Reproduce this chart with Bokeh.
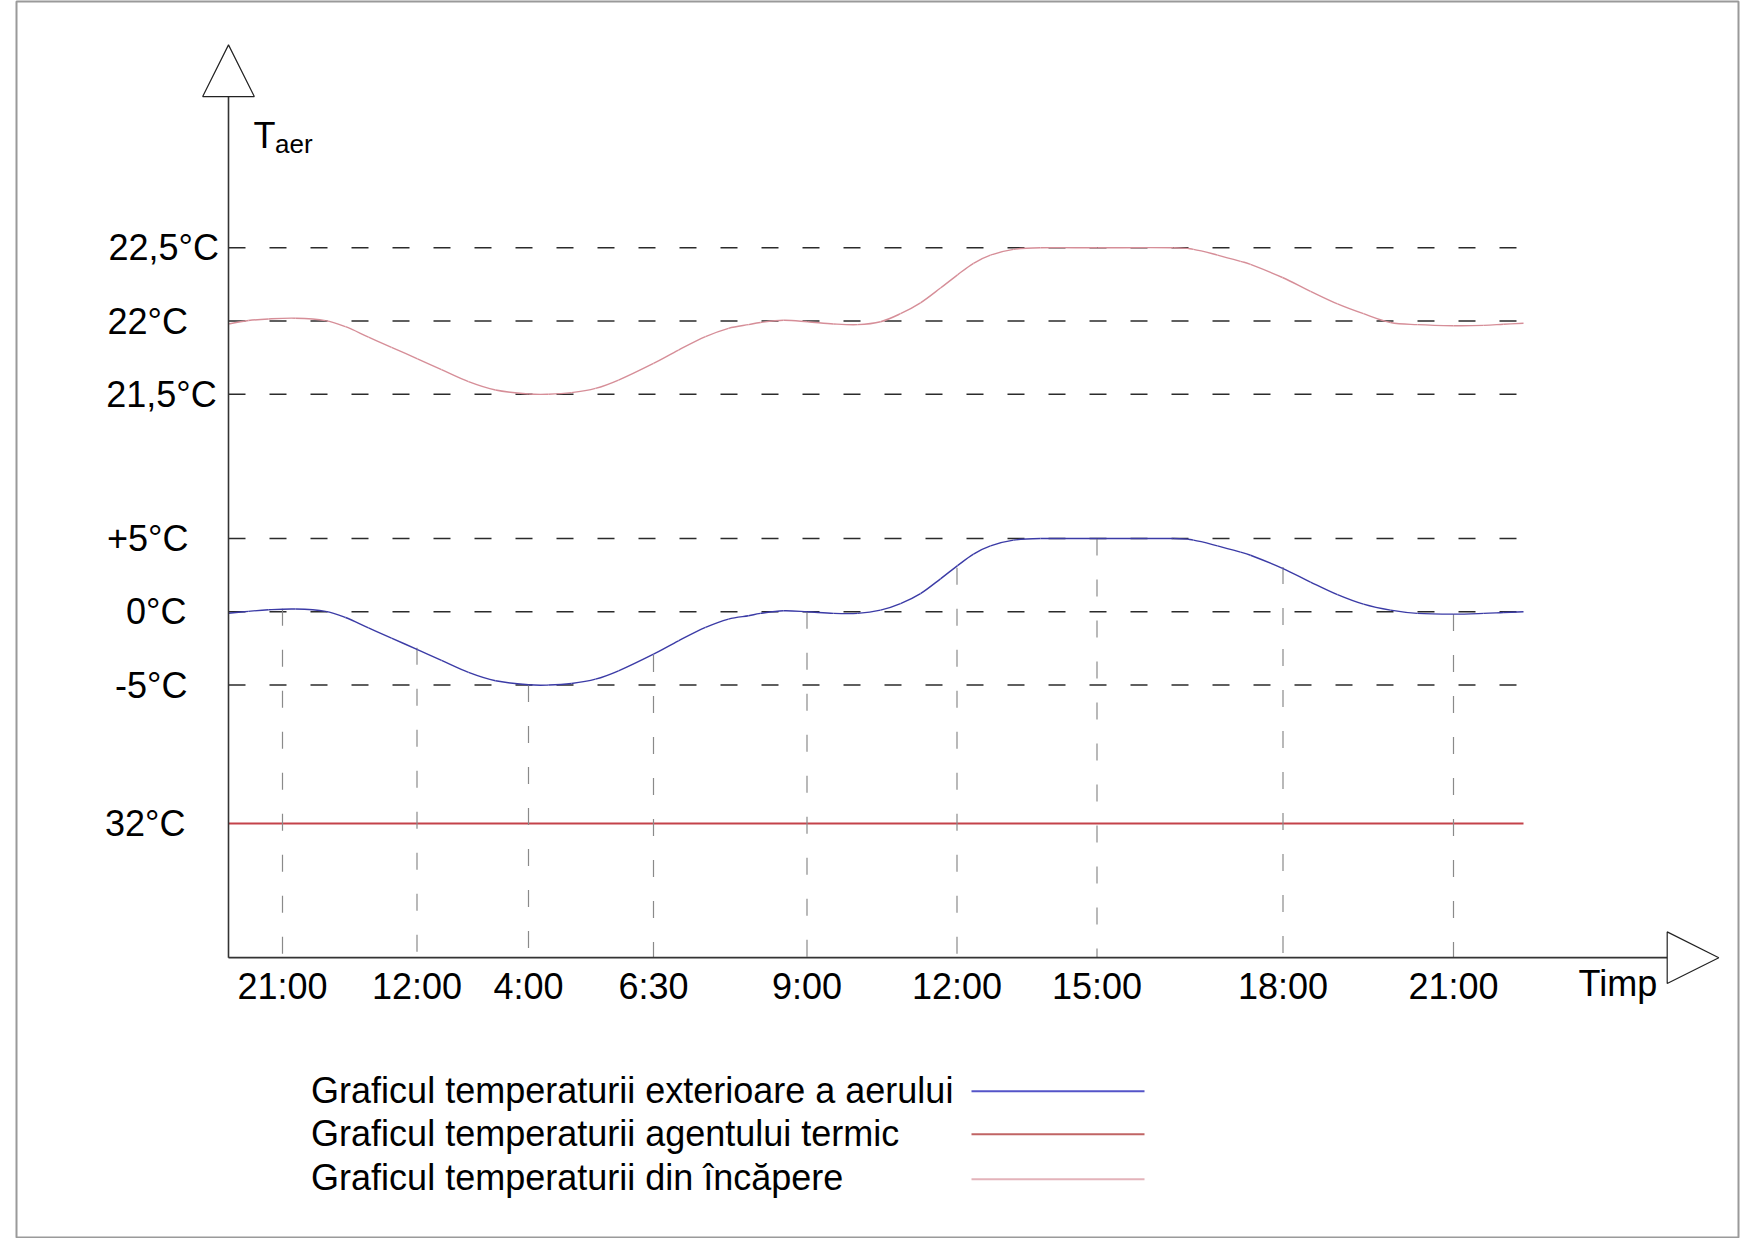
from bokeh.plotting import figure
from bokeh.models import Range1d
from bokeh.core.properties import value
from bokeh.embed import file_html
from bokeh.resources import INLINE

# ---------------- data ----------------
time_labels = ["21:00", "12:00", "4:00", "6:30", "9:00", "12:00", "15:00", "18:00", "21:00"]
time_pos = [0.54, 1.885, 3.00, 4.25, 5.785, 7.285, 8.685, 10.545, 12.25]
# outside temperature where each time marker meets the curve
time_marker_temp = [0.2, -2.45, -5.0, -2.95, 0.0, 3.0, 5.0, 3.05, -0.15]

curve_pos = [0.0, 0.2, 0.4, 0.67, 0.97, 1.17, 1.4, 1.63, 1.89, 2.13, 2.4, 2.67, 3.0, 3.2,
             3.43, 3.67, 3.9, 4.25, 4.5, 4.77, 5.0, 5.2, 5.32, 5.55, 5.79, 6.05, 6.29, 6.52,
             6.72, 6.92, 7.12, 7.29, 7.45, 7.62, 7.85, 8.12, 8.69, 9.45, 9.65, 9.89, 10.12,
             10.22, 10.54, 10.82, 11.09, 11.35, 11.62, 11.89, 12.25, 12.55, 12.75, 12.95]
outside_temp = [-0.1, 0.03, 0.14, 0.19, 0.03, -0.39, -1.1, -1.8, -2.58, -3.32, -4.14, -4.71,
                -4.98, -5.0, -4.89, -4.6, -4.03, -2.89, -1.98, -1.07, -0.5, -0.27, -0.11, 0.07,
                0.0, -0.11, -0.11, 0.11, 0.56, 1.24, 2.25, 3.15, 3.94, 4.5, 4.89, 5.0, 5.0, 5.0,
                4.89, 4.5, 4.07, 3.86, 2.97, 2.03, 1.17, 0.52, 0.11, -0.11, -0.16, -0.11, -0.05, 0.0]
room_temp = [21.98, 22.003, 22.014, 22.019, 22.003, 21.961, 21.89, 21.82, 21.742, 21.668,
             21.586, 21.529, 21.502, 21.5, 21.511, 21.54, 21.597, 21.711, 21.802, 21.893,
             21.95, 21.975, 21.99, 22.005, 21.995, 21.98, 21.975, 21.995, 22.05, 22.124,
             22.225, 22.315, 22.394, 22.45, 22.489, 22.5, 22.5, 22.5, 22.489, 22.45, 22.407,
             22.386, 22.297, 22.203, 22.117, 22.05, 21.99, 21.975, 21.968, 21.97, 21.978, 21.985]
agent_temp = 32

room_ticks = [22.5, 22.0, 21.5]
room_tick_labels = ["22,5°C", "22°C", "21,5°C"]
outside_ticks = [5, 0, -5]
outside_tick_labels = ["+5°C", "0°C", "-5°C"]
agent_tick_label = "32°C"

legend_labels = ["Graficul temperaturii exterioare a aerului",
                 "Graficul temperaturii agentului termic",
                 "Graficul temperaturii din încăpere"]

# ---------------- layout (schematic broken axis) ----------------
ROOM_Y0, ROOM_SCALE = 19.85, 10.0      # plot position of 22 °C and units per °C
AGENT_Y = -14.45                        # plot position of the 32 °C band
XAXIS_Y = -23.61
YAXIS_TOP = 35.17
LINE_END = 12.95

def room_y(t):
    return ROOM_Y0 + (t - 22.0) * ROOM_SCALE

BLUE = "#3b3ba6"
PINK = "#d68e98"
RED = "#c4424a"
FONT = value("Liberation Sans")
FS = value("36px")

p = figure(width=1740, height=1238, output_backend="svg", toolbar_location=None,
           x_axis_type=None, y_axis_type=None,
           x_range=Range1d(-2.12, 15.10), y_range=Range1d(-42.78, 41.66))
p.min_border_left = 16
p.min_border_right = 2
p.min_border_top = 1
p.min_border_bottom = 0
p.outline_line_color = "#9a9a9a"
p.outline_line_width = 2
p.background_fill_color = "white"
p.border_fill_color = "white"


def smooth_curve(xs, ys, color):
    """Draw a smooth curve through the read points using cubic Bezier pieces."""
    n = len(xs)
    x0, y0, x1, y1, cx0, cy0, cx1, cy1 = [], [], [], [], [], [], [], []
    for i in range(n - 1):
        ip, inn = max(i - 1, 0), min(i + 2, n - 1)
        x0.append(xs[i]); y0.append(ys[i]); x1.append(xs[i + 1]); y1.append(ys[i + 1])
        cx0.append(xs[i] + (xs[i + 1] - xs[ip]) / 6.0)
        cy0.append(ys[i] + (ys[i + 1] - ys[ip]) / 6.0)
        cx1.append(xs[i + 1] - (xs[inn] - xs[i]) / 6.0)
        cy1.append(ys[i + 1] - (ys[inn] - ys[i]) / 6.0)
    p.bezier(x0=x0, y0=y0, x1=x1, y1=y1, cx0=cx0, cy0=cy0, cx1=cx1, cy1=cy1,
             line_color=color, line_width=1.4)


# horizontal dashed reference lines
hy = [room_y(t) for t in room_ticks] + list(outside_ticks)
p.segment(x0=[0] * len(hy), y0=hy, x1=[LINE_END] * len(hy), y1=hy,
          line_color="#2b2b2b", line_width=1.4, line_dash="17 24")

# agent (heat carrier) line
p.segment(x0=[0], y0=[AGENT_Y], x1=[LINE_END], y1=[AGENT_Y], line_color=RED, line_width=1.8)

# vertical time markers
p.segment(x0=time_pos, y0=time_marker_temp, x1=time_pos, y1=[XAXIS_Y] * len(time_pos),
          line_color="#8a8a8a", line_width=1.2, line_dash="17 24")

# curves
smooth_curve(curve_pos, outside_temp, BLUE)
smooth_curve(curve_pos, [room_y(t) for t in room_temp], PINK)

# axes with arrow heads
p.segment(x0=[0, 0], y0=[XAXIS_Y, XAXIS_Y], x1=[0, 14.387], y1=[YAXIS_TOP, XAXIS_Y],
          line_color="#333333", line_width=1.6)
p.patch([-0.258, 0.258, 0.0], [YAXIS_TOP, YAXIS_TOP, 38.70],
        fill_color="white", line_color="#222222", line_width=1.2)
p.patch([14.387, 14.387, 14.903], [XAXIS_Y - 1.76, XAXIS_Y + 1.76, XAXIS_Y],
        fill_color="white", line_color="#222222", line_width=1.2)

# y tick labels
p.text(x=[-0.095, -0.405, -0.118], y=[room_y(t) for t in room_ticks], text=room_tick_labels,
       text_font=FONT, text_font_size=FS, text_align="right", text_baseline="middle",
       text_color="black")
p.text(x=[-0.4, -0.42, -0.41], y=outside_ticks, text=outside_tick_labels,
       text_font=FONT, text_font_size=FS, text_align="right", text_baseline="middle",
       text_color="black")
p.text(x=[-0.43], y=[AGENT_Y], text=[agent_tick_label],
       text_font=FONT, text_font_size=FS, text_align="right", text_baseline="middle",
       text_color="black")

# x tick labels
p.text(x=time_pos, y=[-25.55] * len(time_pos), text=time_labels,
       text_font=FONT, text_font_size=FS, text_align="center", text_baseline="middle",
       text_color="black")
p.text(x=[13.5], y=[-25.35], text=["Timp"], text_font=FONT, text_font_size=FS,
       text_align="left", text_baseline="middle", text_color="black")

# axis title T_aer
p.text(x=[0.25], y=[32.48], text=["T"], text_font=FONT, text_font_size=FS,
       text_align="left", text_baseline="middle", text_color="black")
p.text(x=[0.465], y=[31.96], text=["aer"], text_font=FONT, text_font_size=value("26px"),
       text_align="left", text_baseline="middle", text_color="black")

# legend (text followed by line sample)
p.text(x=[0.826] * 3, y=[-32.67, -35.59, -38.61], text=legend_labels,
       text_font=FONT, text_font_size=FS, text_align="left", text_baseline="middle",
       text_color="black")
ly = [-32.72, -35.66, -38.73]
p.segment(x0=[7.43] * 3, y0=ly, x1=[9.16] * 3, y1=ly,
          line_color=["#5454c8", "#c06464", "#e3b3ba"], line_width=2)

open("out.html", "w").write(file_html(p, INLINE))
